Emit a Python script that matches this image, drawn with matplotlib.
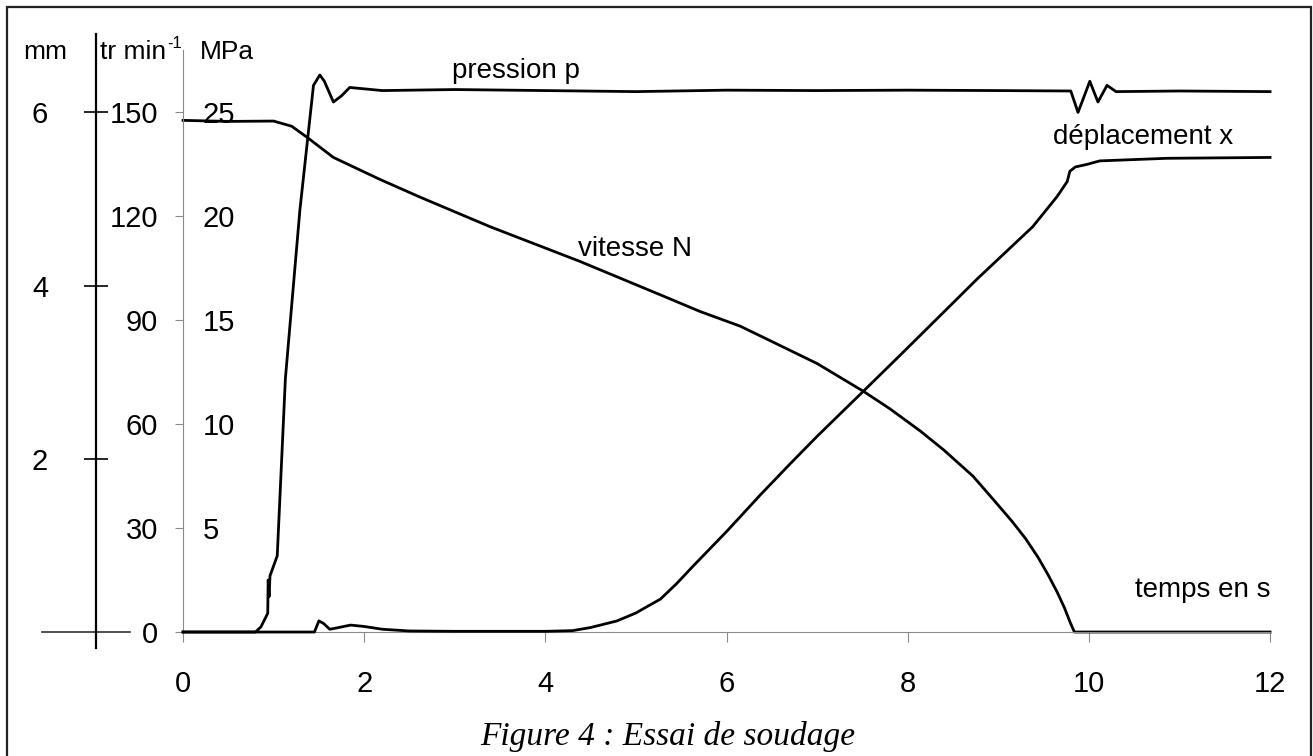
import matplotlib.pyplot as plt
import matplotlib.transforms as mtransforms
from matplotlib.patches import Rectangle

plt.rcParams['font.family'] = ['Liberation Sans', 'DejaVu Sans']

# pression p (MPa)
t_p = [0, 0.80, 0.86, 0.92, 0.935, 0.94, 0.95, 0.96, 1.04, 1.13, 1.29, 1.44, 1.51, 1.56,
       1.66, 1.75, 1.84, 2.2, 3.0, 4.0, 5.0, 6.0, 7.0, 8.0, 9.0, 9.8, 9.88, 9.95, 10.01,
       10.1, 10.2, 10.3, 11.0, 12.0]
p_mpa = [0, 0, 0.25, 0.77, 0.9, 2.5, 1.7, 2.7, 3.67, 12.2, 20.3, 26.3, 26.8, 26.5,
         25.5, 25.8, 26.2, 26.05, 26.1, 26.05, 26.0, 26.07, 26.05, 26.07, 26.05, 26.03, 25.0, 25.8, 26.5,
         25.5, 26.3, 26.0, 26.03, 26.0]

# vitesse N (tr/min)
t_n = [0, 0.5, 1.0, 1.2, 1.37, 1.66, 2.17, 2.62, 3.39, 4.38, 5.3, 5.71, 6.15, 6.45, 7.0,
       7.51, 7.8, 8.14, 8.4, 8.72, 8.94, 9.15, 9.3, 9.44, 9.55, 9.65, 9.73, 9.79, 9.84, 12]
n_tr = [147.7, 147.4, 147.5, 146, 142.8, 137, 130.7, 125.5, 117, 107, 97, 92.5, 88.3, 84.5, 77.5,
        69.5, 64.5, 58, 52.5, 45, 38.4, 32, 27, 21.5, 16.5, 11.5, 7, 3, 0, 0]

# deplacement x (mm)
t_x = [0, 1.45, 1.5, 1.55, 1.62, 1.7, 1.85, 2.0, 2.2, 2.5, 3.0, 4.0, 4.3, 4.5, 4.79, 5.0,
       5.1, 5.27, 5.45, 5.63, 6.0, 6.37, 6.7, 7.0, 7.51, 7.92, 8.77, 9.38, 9.65, 9.76, 9.79,
       9.85, 9.98, 10.12, 10.86, 12]
x_mm = [0, 0, 0.128, 0.1, 0.032, 0.048, 0.08, 0.064, 0.032, 0.012, 0.008, 0.008, 0.016, 0.052,
        0.128, 0.22, 0.28, 0.38, 0.56, 0.76, 1.16, 1.58, 1.94, 2.26, 2.78, 3.2, 4.08, 4.68, 5.03,
        5.2, 5.32, 5.37, 5.4, 5.44, 5.47, 5.48]

x_ticks = [0, 2, 4, 6, 8, 10, 12]
tr_ticks = [0, 30, 60, 90, 120, 150]
mpa_ticks = [5, 10, 15, 20, 25]
mm_ticks = [2, 4, 6]

grey = '#8a8a8a'
fig = plt.figure(figsize=(13.13, 7.56), dpi=100)
ax = fig.add_axes([0.1394, 0.164, 0.8279, 0.7698])
ax_mpa = ax.twinx()
ax_mm = ax.twinx()

ymax = 168
ax.set_xlim(0, 12)
ax.set_ylim(0, ymax)
ax_mpa.set_ylim(0, ymax / 6)
ax_mm.set_ylim(0, ymax / 25)

# main axis (tr/min)
for s in ['top', 'right']:
    ax.spines[s].set_visible(False)
ax.spines['left'].set_color(grey)
ax.spines['bottom'].set_color(grey)
ax.spines['left'].set_linewidth(0.8)
ax.spines['bottom'].set_linewidth(0.8)
ax.set_xticks(x_ticks)
ax.set_yticks(tr_ticks)
ax.tick_params(axis='x', direction='out', length=7, width=0.8, color=grey, pad=20, labelsize=21)
ax.tick_params(axis='y', direction='out', length=6, width=0.8, color=grey, pad=12, labelsize=21)

# MPa axis: labels inside
for s in ax_mpa.spines.values():
    s.set_visible(False)
ax_mpa.set_yticks(mpa_ticks)
ax_mpa.spines['right'].set_position(('axes', 0))
ax_mpa.tick_params(axis='y', length=0, pad=14, labelsize=21)

# mm axis: offset to the left
for s in ['top', 'right', 'bottom']:
    ax_mm.spines[s].set_visible(False)
ax_mm.spines['left'].set_visible(True)
ax_mm.spines['left'].set_position(('outward', 62.6))
ax_mm.spines['left'].set_linewidth(1.6)
ax_mm.spines['left'].set_bounds(-0.18, 6.9)
ax_mm.yaxis.set_ticks_position('left')
ax_mm.yaxis.set_label_position('left')
ax_mm.set_yticks(mm_ticks)
ax_mm.tick_params(axis='y', direction='inout', length=17, width=1.2, pad=26, labelsize=21)
zero_tr = mtransforms.blended_transform_factory(ax.transAxes, ax_mm.transData)
ax_mm.plot([-0.1297, -0.0488], [0, 0], color='#333333', lw=1.2, transform=zero_tr, clip_on=False)

# curves
ax.plot(t_n, n_tr, color='black', lw=2.0, clip_on=False)
ax_mpa.plot(t_p, p_mpa, color='black', lw=2.0, clip_on=False)
ax_mm.plot(t_x, x_mm, color='black', lw=2.0, clip_on=False)

# unit labels
fig.text(45 / 1313, 1 - 52 / 756, 'mm', fontsize=19, ha='center', va='center')
fig.text(100 / 1313, 1 - 52 / 756, 'tr min', fontsize=19, ha='left', va='center')
fig.text(167 / 1313, 1 - 44 / 756, '-1', fontsize=12, ha='left', va='center')
fig.text(200 / 1313, 1 - 52 / 756, 'MPa', fontsize=19, ha='left', va='center')

# curve labels
ax.text(2.97, 162, 'pression p', fontsize=20, ha='left', va='center')
ax.text(4.99, 110.5, 'vitesse N', fontsize=20, ha='center', va='center')
ax.text(10.6, 143, 'déplacement x', fontsize=20, ha='center', va='center')
ax.text(12, 12, 'temps en s', fontsize=20, ha='right', va='center')

fig.text(668 / 1313, 1 - 737 / 756, 'Figure 4 : Essai de soudage', fontsize=24,
         family='Liberation Serif', style='italic', ha='center', va='center')

fig.patches.append(Rectangle((7 / 1313, -0.05), 1304 / 1313, 1.05 - 7 / 756, fill=False,
                             lw=1.6, edgecolor='#222222', transform=fig.transFigure))

fig.savefig('out.png', dpi=100)
